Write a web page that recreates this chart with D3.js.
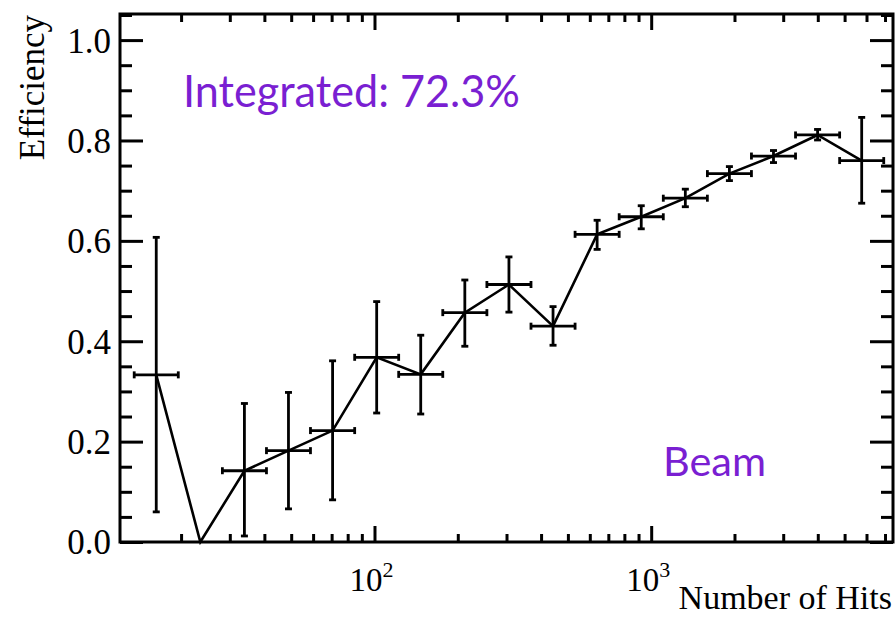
<!DOCTYPE html>
<html>
<head>
<meta charset="utf-8">
<script src="https://cdn.jsdelivr.net/npm/d3@7"></script>
<style>
  html, body { margin: 0; padding: 0; background: #ffffff; }
  svg { display: block; }
</style>
</head>
<body>
<div id="chart"></div>
<script>
// bin edges in number of hits (log-spaced), one more than the points
const binEdges = [13.54, 19.54, 28.2, 40.7, 58.7, 84.8, 122.3, 176.5, 254.8,
  367.8, 530.8, 766.1, 1106, 1596, 2303, 3324, 4798, 6925];
const efficiency = [0.333, 0.000, 0.142, 0.182, 0.222, 0.368, 0.334, 0.457, 0.513,
  0.430, 0.613, 0.648, 0.685, 0.734, 0.769, 0.811, 0.760];
const effHigh = [0.607, 0.000, 0.276, 0.298, 0.361, 0.479, 0.412, 0.522, 0.568,
  0.469, 0.641, 0.670, 0.703, 0.748, 0.780, 0.822, 0.846];
const effLow = [0.060, 0.000, 0.012, 0.066, 0.084, 0.257, 0.255, 0.390, 0.458,
  0.392, 0.583, 0.624, 0.668, 0.720, 0.756, 0.801, 0.675];

const yMajor = [0, 0.2, 0.4, 0.6, 0.8, 1.0];
const yMinor = [0.05, 0.1, 0.15, 0.25, 0.3, 0.35, 0.45, 0.5, 0.55, 0.65, 0.7, 0.75,
  0.85, 0.9, 0.95, 1.05];
const xMajor = [100, 1000];
const xMajorLabels = [["10", "2"], ["10", "3"]];
const xMinor = [20, 30, 40, 50, 60, 70, 80, 90, 200, 300, 400, 500, 600, 700, 800, 900,
  2000, 3000, 4000, 5000, 6000, 7000];

const width = 896, height = 618;
const plotLeft = 120, plotRight = 893, plotTop = 14, plotBottom = 542;
const purple = "#7a1fd2";
const serif = "'Liberation Serif', 'Times New Roman', serif";

const points = efficiency.map((v, i) => ({
  lo: binEdges[i],
  hi: binEdges[i + 1],
  x: Math.sqrt(binEdges[i] * binEdges[i + 1]),
  y: v,
  yh: effHigh[i],
  yl: effLow[i]
}));

const x = d3.scaleLog().domain([12.03, 7480]).range([plotLeft, plotRight]);
const y = d3.scaleLinear().domain([0, 1.052]).range([plotBottom, plotTop]);

const svg = d3.select("#chart")
  .append("svg")
  .attr("width", width)
  .attr("height", height);

function tickAxis(axis, scale, values, size, tx, ty) {
  const g = svg.append("g")
    .attr("transform", `translate(${tx},${ty})`)
    .call(axis(scale).tickValues(values).tickSize(-size).tickSizeOuter(0).tickFormat(""));
  g.select(".domain").remove();
  g.selectAll(".tick line").attr("stroke", "#000").attr("stroke-width", 3);
  return g;
}

// x ticks, bottom and top, pointing inward
tickAxis(d3.axisBottom, x, xMinor, 8, 0, plotBottom);
tickAxis(d3.axisBottom, x, xMajor, 16, 0, plotBottom);
tickAxis(d3.axisTop, x, xMinor, 8, 0, plotTop);
tickAxis(d3.axisTop, x, xMajor, 16, 0, plotTop);

// y ticks, left and right
tickAxis(d3.axisLeft, y, yMinor.filter(v => v <= 1.052), 12, plotLeft, 0);
const yLeft = tickAxis(d3.axisLeft, y, yMajor, 23, plotLeft, 0);
tickAxis(d3.axisRight, y, yMinor.filter(v => v <= 1.052), 12, plotRight, 0);
tickAxis(d3.axisRight, y, yMajor, 23, plotRight, 0);

// y tick labels
yLeft.selectAll(".tick text")
  .text(d => d3.format(".1f")(d))
  .attr("x", -9)
  .attr("dy", "0.34em")
  .attr("fill", "#000")
  .style("font-family", serif)
  .style("font-size", "35px");

// x tick labels 10^n
const xl = svg.append("g").selectAll("text")
  .data(xMajor)
  .join("text")
  .attr("x", d => x(d) - 3)
  .attr("y", 591)
  .attr("text-anchor", "middle")
  .style("font-family", serif)
  .style("font-size", "33px");
xl.append("tspan").text((d, i) => xMajorLabels[i][0]);
xl.append("tspan")
  .attr("dy", -14)
  .style("font-size", "22px")
  .text((d, i) => xMajorLabels[i][1]);

// frame
svg.append("rect")
  .attr("x", plotLeft).attr("y", plotTop)
  .attr("width", plotRight - plotLeft).attr("height", plotBottom - plotTop)
  .attr("fill", "none")
  .attr("stroke", "#000")
  .attr("stroke-width", 3);

// axis titles
svg.append("text")
  .attr("transform", `translate(44,${plotTop + 1}) rotate(-90)`)
  .attr("text-anchor", "end")
  .style("font-family", serif)
  .style("font-size", "35px")
  .text("Efficiency");

svg.append("text")
  .attr("x", plotRight - 1)
  .attr("y", 609)
  .attr("text-anchor", "end")
  .style("font-family", serif)
  .style("font-size", "34px")
  .text("Number of Hits");

// data
const plot = svg.append("g");
const cap = 3.5;

const bars = plot.selectAll("g.pt")
  .data(points)
  .join("g")
  .attr("class", "pt")
  .attr("stroke", "#000")
  .attr("stroke-width", 2.8);

bars.filter(d => d.yh > d.yl).each(function (d) {
  const g = d3.select(this);
  const cx = x(d.x);
  g.append("line")
    .attr("x1", cx).attr("x2", cx)
    .attr("y1", y(d.yh)).attr("y2", y(d.yl));
  g.append("line")
    .attr("x1", cx - cap).attr("x2", cx + cap)
    .attr("y1", y(d.yh)).attr("y2", y(d.yh));
  g.append("line")
    .attr("x1", cx - cap).attr("x2", cx + cap)
    .attr("y1", y(d.yl)).attr("y2", y(d.yl));
  g.append("line")
    .attr("x1", x(d.lo)).attr("x2", x(d.hi))
    .attr("y1", y(d.y)).attr("y2", y(d.y));
  g.append("line")
    .attr("x1", x(d.lo)).attr("x2", x(d.lo))
    .attr("y1", y(d.y) - cap).attr("y2", y(d.y) + cap);
  g.append("line")
    .attr("x1", x(d.hi)).attr("x2", x(d.hi))
    .attr("y1", y(d.y) - cap).attr("y2", y(d.y) + cap);
});

plot.append("path")
  .datum(points)
  .attr("fill", "none")
  .attr("stroke", "#000")
  .attr("stroke-width", 2.6)
  .attr("stroke-linejoin", "miter")
  .attr("d", d3.line().x(d => x(d.x)).y(d => y(d.y)));

// annotations
svg.append("text")
  .attr("x", 183)
  .attr("y", 107)
  .attr("textLength", 337)
  .attr("lengthAdjust", "spacingAndGlyphs")
  .attr("fill", purple)
  .style("font-family", "Lato, 'Open Sans', sans-serif")
  .style("font-size", "44px")
  .text("Integrated: 72.3%");

svg.append("text")
  .attr("x", 663)
  .attr("y", 476)
  .attr("textLength", 103)
  .attr("lengthAdjust", "spacingAndGlyphs")
  .attr("fill", purple)
  .style("font-family", "Lato, 'Open Sans', sans-serif")
  .style("font-size", "41px")
  .text("Beam");
</script>
</body>
</html>
